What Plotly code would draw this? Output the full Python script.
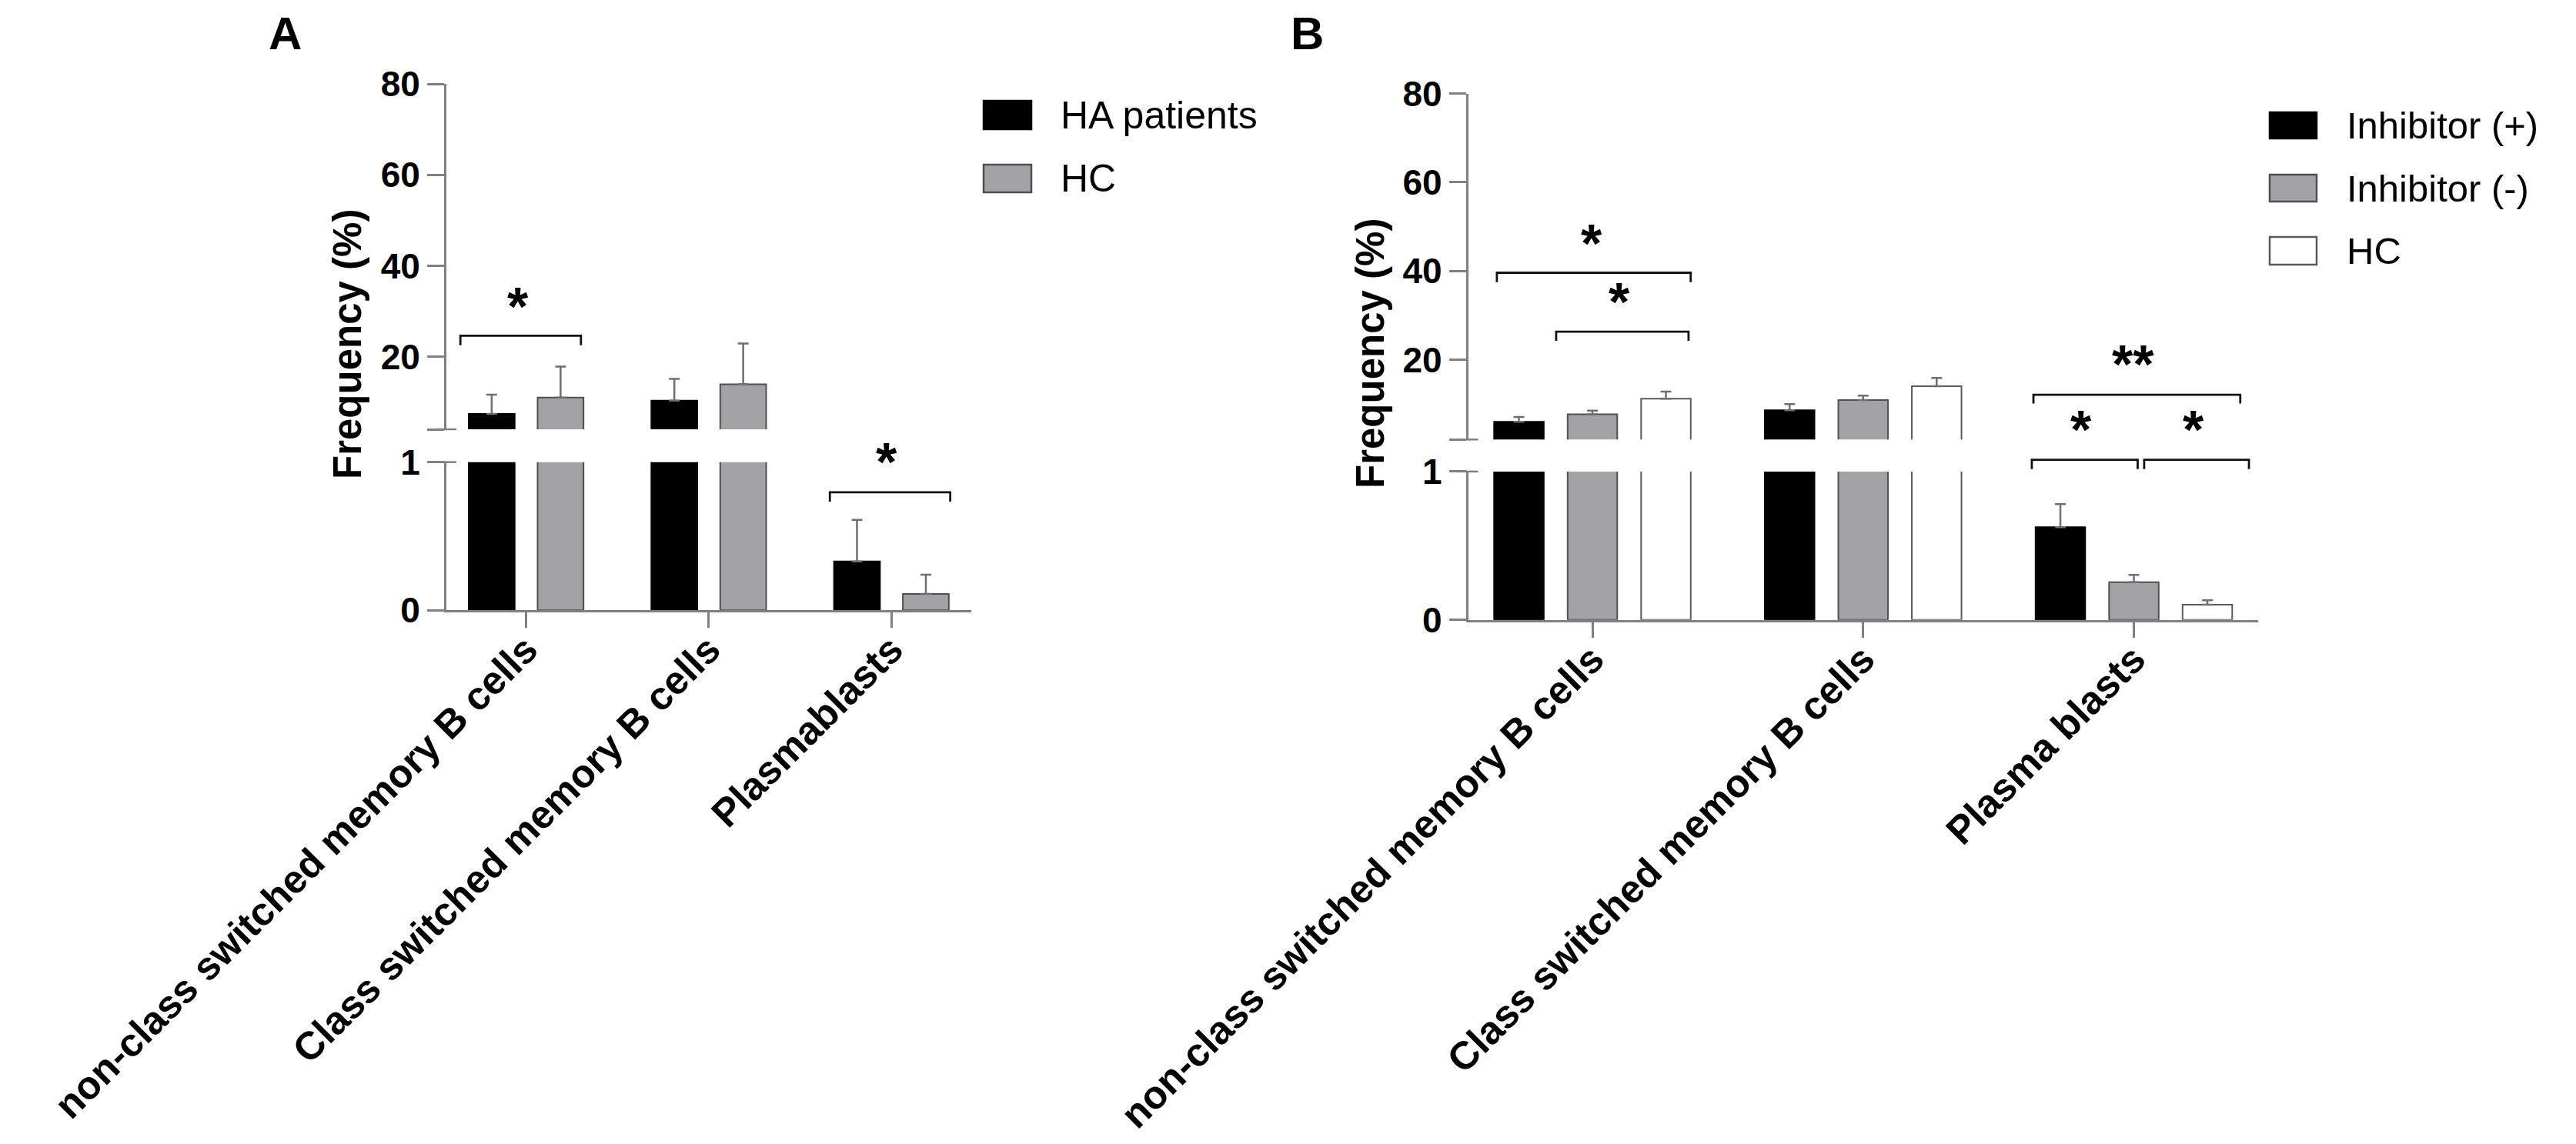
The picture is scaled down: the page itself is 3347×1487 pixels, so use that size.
import plotly.graph_objects as go

W, H = 3347, 1487
FONT = "Liberation Sans, Arial, Helvetica, sans-serif"

# ---------------- data ----------------
categories_A = ["non-class switched memory B cells", "Class switched memory B cells", "Plasmablasts"]
ha_mean = [7.4, 10.3, 0.33]
ha_err = [4.2, 4.8, 0.28]
hcA_mean = [11.0, 13.9, 0.11]
hcA_err = [6.8, 9.0, 0.13]

categories_B = ["non-class switched memory B cells", "Class switched memory B cells", "Plasma blasts"]
inh_pos_mean = [6.0, 8.6, 0.625]
inh_pos_err = [1.1, 1.4, 0.155]
inh_neg_mean = [7.7, 10.9, 0.254]
inh_neg_err = [0.8, 1.0, 0.05]
hcB_mean = [11.2, 14.0, 0.103]
hcB_err = [1.6, 1.9, 0.03]

upper_ticks = [20, 40, 60, 80]
lower_ticks = [0, 1]

# significance brackets (x in category units, y in the units of the segment)
sig_A = [
    dict(x0=-0.36, x1=0.30, y=24.6, leg=22.5, text="*", tx=-0.045, ty=30.9, seg="upper"),
    dict(x0=1.663, x1=2.322, y=0.796, leg=0.733, text="*", tx=1.975, ty=1.0, seg="lower"),
]
sig_B = [
    dict(x0=-0.353, x1=0.363, y=39.6, leg=37.5, text="*", tx=-0.004, ty=46.1, seg="upper"),
    dict(x0=-0.134, x1=0.355, y=26.3, leg=24.25, text="*", tx=0.10, ty=32.9, seg="upper"),
    dict(x0=1.629, x1=2.393, y=12.1, leg=10.1, text="**", tx=1.998, ty=18.8, seg="upper"),
    dict(x0=1.623, x1=2.014, y=1.079, leg=1.016, text="*", tx=1.806, ty=1.278, seg="lower"),
    dict(x0=2.038, x1=2.425, y=1.079, leg=1.016, text="*", tx=2.219, ty=1.278, seg="lower"),
]

# ---------------- styles / geometry ----------------
BLACK = dict(fill="#000000", line="#000000")
GRAY = dict(fill="#a3a3a5", line="#505050")
WHITE = dict(fill="#ffffff", line="#5a5a5a")
AXC = "#808080"


def fx(p):
    return p / W


def fy(p):
    return 1 - p / H


panels = [
    dict(label="A", xa="x", yu="y", yl="y2", xdom=(571.9, 1254.4), up=(101.2, 550.0), lo=(592.7, 785.2),
         xrange=[-0.437, 2.439], urange=[4, 80], lrange=[0, 1], slot=0.377, barw=0.2515,
         cats=categories_A,
         series=[("HA patients", ha_mean, ha_err, BLACK), ("HC", hcA_mean, hcA_err, GRAY)],
         sig=sig_A, ytitle=(443, 440), letter=(362, 35),
         legend=dict(bx=(1270, 1332), rows=[(123, 160), (206, 242)], tx=1368, fs=50)),
    dict(label="B", xa="x2", yu="y3", yl="y4", xdom=(1899.6, 2926.0), up=(113.6, 563.3), lo=(604.9, 797.8),
         xrange=[-0.459, 2.459], urange=[2, 80], lrange=[0, 1], slot=0.2715, barw=0.1833,
         cats=categories_B,
         series=[("Inhibitor (+)", inh_pos_mean, inh_pos_err, BLACK),
                 ("Inhibitor (-)", inh_neg_mean, inh_neg_err, GRAY),
                 ("HC", hcB_mean, hcB_err, WHITE)],
         sig=sig_B, ytitle=(1772, 452), letter=(1690, 35),
         legend=dict(bx=(2941, 3002), rows=[(138, 172), (219, 254), (300, 336)], tx=3039, fs=49)),
]

fig = go.Figure()
shapes = []
annotations = []
layout_axes = {}


def axname(a):
    return "xaxis" + a[1:] if a.startswith("x") else "yaxis" + a[1:]


for P in panels:
    n = len(P["series"])
    xs = list(range(len(P["cats"])))
    for i, (name, mean, err, st) in enumerate(P["series"]):
        off = (i - n / 2) * P["slot"] + (P["slot"] - P["barw"]) / 2
        for ya in (P["yu"], P["yl"]):
            fig.add_trace(go.Bar(
                x=xs, y=mean, name=name, xaxis=P["xa"], yaxis=ya,
                width=P["barw"], offset=off, showlegend=False,
                marker=dict(color=st["fill"], line=dict(color=st["line"], width=2)),
                error_y=dict(type="data", array=err, arrayminus=[0] * len(err), symmetric=False,
                             color="#6e6e6e", thickness=2.5, width=7),
            ))

    xd = [fx(P["xdom"][0]), fx(P["xdom"][1])]
    layout_axes[axname(P["xa"])] = dict(
        domain=xd, anchor=P["yl"], range=P["xrange"], tickmode="array", tickvals=xs,
        ticktext=P["cats"], tickangle=-45, ticks="outside", ticklen=20, tickwidth=2.5, tickcolor=AXC,
        ticklabelstandoff=-22,
        showline=True, linecolor=AXC, linewidth=2.5, showgrid=False, zeroline=False,
        tickfont=dict(family=FONT, size=51, color="black", weight="bold"), automargin=False,
    )
    layout_axes[axname(P["yu"])] = dict(
        domain=[fy(P["up"][1]), fy(P["up"][0])], anchor=P["xa"], range=P["urange"],
        tickmode="array", tickvals=[P["urange"][0]] + upper_ticks,
        ticktext=[""] + [str(t) for t in upper_ticks],
        ticks="outside", ticklen=22, tickwidth=2.5, tickcolor=AXC,
        showline=True, linecolor=AXC, linewidth=2.5, showgrid=False, zeroline=False,
        tickfont=dict(family=FONT, size=46, color="black", weight="bold"), automargin=False,
    )
    layout_axes[axname(P["yl"])] = dict(
        domain=[fy(P["lo"][1]), fy(P["lo"][0])], anchor=P["xa"], range=P["lrange"],
        tickmode="array", tickvals=lower_ticks, ticktext=[str(t) for t in lower_ticks],
        ticks="outside", ticklen=22, tickwidth=2.5, tickcolor=AXC,
        showline=True, linecolor=AXC, linewidth=2.5, showgrid=False, zeroline=False,
        tickfont=dict(family=FONT, size=46, color="black", weight="bold"), automargin=False,
    )

    # axis-break marks crossing the y axis
    ax0 = P["xdom"][0]
    for ypx in (P["up"][1], P["lo"][0]):
        shapes.append(dict(type="line", xref="paper", yref="paper", x0=fx(ax0 - 14), x1=fx(ax0 + 13),
                           y0=fy(ypx), y1=fy(ypx), line=dict(color=AXC, width=2.5)))

    # significance brackets and stars
    lr0, lr1 = P["lrange"]
    for b in P["sig"]:
        if b["seg"] == "upper":
            yref = P["yu"]
            conv = lambda v: v
        else:
            yref = P["yl"] + " domain"
            conv = lambda v, lr0=lr0, lr1=lr1: (v - lr0) / (lr1 - lr0)
        path = (f"M{b['x0']},{conv(b['leg'])} L{b['x0']},{conv(b['y'])} "
                f"L{b['x1']},{conv(b['y'])} L{b['x1']},{conv(b['leg'])}")
        shapes.append(dict(type="path", xref=P["xa"], yref=yref, path=path,
                           line=dict(color="#111111", width=2.8)))
        annotations.append(dict(x=b["tx"], y=conv(b["ty"]), xref=P["xa"], yref=yref, text=b["text"],
                                showarrow=False, xanchor="center", yanchor="middle", yshift=0,
                                font=dict(family=FONT, size=70, color="black", weight="bold")))

    # y-axis title spanning both segments
    annotations.append(dict(x=fx(P["ytitle"][0]), y=fy(P["ytitle"][1]), xref="paper", yref="paper",
                            text="Frequency (%)", textangle=-90, showarrow=False,
                            xanchor="center", yanchor="middle",
                            font=dict(family=FONT, size=51, color="black", weight="bold")))
    # panel letter
    annotations.append(dict(x=fx(P["letter"][0]), y=fy(P["letter"][1]), xref="paper", yref="paper",
                            text=P["label"], showarrow=False, xanchor="center", yanchor="middle",
                            font=dict(family=FONT, size=60, color="black", weight="bold")))

    # legend
    L = P["legend"]
    for (name, _, _, st), (r0, r1) in zip(P["series"], L["rows"]):
        shapes.append(dict(type="rect", xref="paper", yref="paper",
                           x0=fx(L["bx"][0]), x1=fx(L["bx"][1]), y0=fy(r1), y1=fy(r0),
                           fillcolor=st["fill"], line=dict(color=st["line"], width=2.5)))
        annotations.append(dict(x=fx(L["tx"]), y=fy((r0 + r1) / 2), xref="paper", yref="paper",
                                text=name, showarrow=False, xanchor="left", yanchor="middle",
                                font=dict(family=FONT, size=L["fs"], color="black")))

fig.update_layout(
    template="none",
    width=W, height=H, autosize=False,
    margin=dict(l=0, r=0, t=0, b=0, pad=0),
    paper_bgcolor="white", plot_bgcolor="white",
    font=dict(family=FONT, color="black"),
    barmode="overlay",
    showlegend=False,
    shapes=shapes,
    annotations=annotations,
    **layout_axes,
)

fig.write_html("out.html")
